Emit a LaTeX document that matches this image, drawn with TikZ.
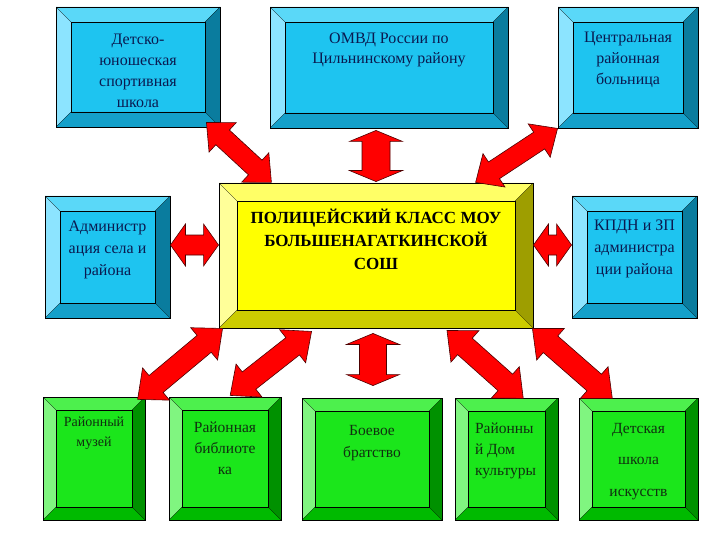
\documentclass[tikz,border=0pt]{standalone}
\usepackage{fontspec}
\setmainfont{Liberation Serif}
\usetikzlibrary{calc}

\definecolor{blueFace}{HTML}{1EC4F0}
\definecolor{blueTop}{HTML}{5AD8F8}
\definecolor{blueLeft}{HTML}{8CE4FF}
\definecolor{blueRight}{HTML}{0A7C9E}
\definecolor{blueBottom}{HTML}{14A0CA}
\definecolor{blueText}{HTML}{0A1A50}
\definecolor{yelFace}{HTML}{FFFF00}
\definecolor{yelTop}{HTML}{FFFF66}
\definecolor{yelLeft}{HTML}{FFFF99}
\definecolor{yelRight}{HTML}{9E9E00}
\definecolor{yelBottom}{HTML}{CCCC00}
\definecolor{grFace}{HTML}{1BE61B}
\definecolor{grTop}{HTML}{4DF04D}
\definecolor{grLeft}{HTML}{80F580}
\definecolor{grRight}{HTML}{009100}
\definecolor{grBottom}{HTML}{00BA00}
\definecolor{grText}{HTML}{103010}

% width, height, first baseline, lines
\newcommand{\boxtext}[4]{\parbox[c][#2pt][t]{#1pt}{\centering\rule{0pt}{#3pt}#4}}

% from, to, half shaft, half head, head length
\newcommand{\dblarrow}[5]{%
  \draw[redarrow] let \p1=($(#2)-(#1)$), \n1={veclen(\x1,\y1)}, \n2={atan2(\y1,\x1)} in
    [shift={(#1)}, rotate=\n2]
    (0pt,0pt) -- (#5pt,#4pt) -- (#5pt,#3pt) -- (\n1-#5pt,#3pt) -- (\n1-#5pt,#4pt) -- (\n1,0pt)
    -- (\n1-#5pt,-#4pt) -- (\n1-#5pt,-#3pt) -- (#5pt,-#3pt) -- (#5pt,-#4pt) -- cycle;
}

\tikzset{
  bevelbox/.style n args={6}{rectangle, fill=#1, draw=black, line width=0.9pt, inner sep=0pt,
    path picture={
      \coordinate (o1) at (path picture bounding box.north west);
      \coordinate (o2) at (path picture bounding box.north east);
      \coordinate (o3) at (path picture bounding box.south east);
      \coordinate (o4) at (path picture bounding box.south west);
      \coordinate (i1) at ([shift={(#6,#6)}]o1);
      \coordinate (i2) at ([shift={(-#6,#6)}]o2);
      \coordinate (i3) at ([shift={(-#6,-#6)}]o3);
      \coordinate (i4) at ([shift={(#6,-#6)}]o4);
      \fill[#2] (o1) -- (o2) -- (i2) -- (i1) -- cycle;
      \fill[#3] (o1) -- (i1) -- (i4) -- (o4) -- cycle;
      \fill[#4] (o2) -- (o3) -- (i3) -- (i2) -- cycle;
      \fill[#5] (o4) -- (i4) -- (i3) -- (o3) -- cycle;
      \draw[line width=0.6pt] (i1) rectangle (i3);
      \draw[line width=0.3pt] (o1) -- (i1) (o2) -- (i2) (o3) -- (i3) (o4) -- (i4);
    }},
  blueBox/.style={bevelbox={blueFace}{blueTop}{blueLeft}{blueRight}{blueBottom}{15}, text=blueText,
    font=\fontsize{16}{21}\selectfont},
  yellowBox/.style={bevelbox={yelFace}{yelTop}{yelLeft}{yelRight}{yelBottom}{18}, text=black,
    font=\fontsize{17}{23}\selectfont\bfseries},
  greenBox/.style={bevelbox={grFace}{grTop}{grLeft}{grRight}{grBottom}{13}, text=grText,
    font=\fontsize{15.5}{21}\selectfont},
  redarrow/.style={fill=red, draw=black!70!red, line width=0.6pt, line join=miter}
}

\begin{document}
\begin{tikzpicture}[x=1pt,y=-1pt]
\useasboundingbox (0,0) rectangle (720,540);

\node[blueBox] (det) at (138,67) {\boxtext{164}{120}{38}{Детско-\\юношеская\\спортивная\\школа}};
\node[blueBox,font=\fontsize{16}{20}\selectfont] (omvd) at (389,67.5) {\boxtext{238}{121}{37}{ОМВД России по\\Цильнинскому району}};
\node[blueBox] (crb) at (628,67.5) {\boxtext{140}{121}{36}{Центральная\\районная\\больница}};

\node[yellowBox] (klass) at (376,255.5) {\boxtext{314}{145}{40}{ПОЛИЦЕЙСКИЙ КЛАСС МОУ\\БОЛЬШЕНАГАТКИНСКОЙ\\СОШ}};
\node[blueBox,font=\fontsize{16}{22}\selectfont] (adm) at (107.5,257) {\boxtext{125}{122}{35}{Администр\\ация села и\\района}};
\node[blueBox,font=\fontsize{16}{22}\selectfont] (kpdn) at (634.5,257) {\boxtext{125}{122}{34}{КПДН и ЗП\\администра\\ции района}};

\node[greenBox,font=\fontsize{14}{20}\selectfont] (g1) at (94,458.5) {\boxtext{102}{123}{29}{Районный\\музей}};
\node[greenBox] (g2) at (225,458.5) {\boxtext{112}{123}{35}{Районная\\библиоте\\ка}};
\node[greenBox,font=\fontsize{15.5}{22}\selectfont] (g3) at (372,459) {\boxtext{140}{122}{37}{Боевое\\братство}};
\node[greenBox] (g4) at (506.5,459) {\parbox[c][122pt][t]{103pt}{\raggedright\leftskip=20pt\rule{0pt}{35pt}Районны\\й Дом\\культуры}};
\node[greenBox,font=\fontsize{15.5}{31.5}\selectfont] (g5) at (638.5,459) {\boxtext{119}{122}{35}{Детская\\школа\\искусств}};

\coordinate (a1) at ([shift={(-14,-5)}]det.south east);
\coordinate (a1e) at ([shift={(53,0)}]klass.north west);
\coordinate (a2) at ([shift={(0,2)}]klass.north |- omvd.south);
\coordinate (a2e) at ([shift={(0,-1)}]klass.north);
\coordinate (a3) at (crb.south west);
\coordinate (a3e) at ([shift={(-58,0)}]klass.north east);
\coordinate (l1) at ([shift={(0,-12)}]adm.east);
\coordinate (l1e) at (l1 -| klass.west);
\coordinate (r1) at ([shift={(0,-12)}]kpdn.west);
\coordinate (r1e) at (r1 -| klass.east);
\coordinate (b1) at ([shift={(4,0)}]klass.south west);
\coordinate (b1e) at ([shift={(-8,3)}]g1.north east);
\coordinate (b2) at ([shift={(93,3)}]klass.south west);
\coordinate (b2e) at ([shift={(5,-1)}]g2.north);
\coordinate (b3) at ([shift={(-3,5)}]klass.south);
\coordinate (b3e) at ($(b3 |- g3.north)+(0,-12)$);
\coordinate (b4) at ([shift={(71,2)}]klass.south);
\coordinate (b4e) at ([shift={(-35,1)}]g4.north east);
\coordinate (b5) at ([shift={(-1,0)}]klass.south east);
\coordinate (b5e) at ([shift={(34,1)}]g5.north west);

\dblarrow{a1}{a1e}{10}{20}{22}
\dblarrow{a2}{a2e}{14}{26.5}{11}
\dblarrow{a3}{a3e}{10}{20}{22}
\dblarrow{l1}{l1e}{10}{21}{15}
\dblarrow{r1e}{r1}{10}{21}{15}
\dblarrow{b1}{b1e}{11}{21}{24}
\dblarrow{b2}{b2e}{11}{21}{24}
\dblarrow{b3}{b3e}{13.5}{26.5}{11}
\dblarrow{b4}{b4e}{11}{21}{24}
\dblarrow{b5}{b5e}{11}{21}{24}
\end{tikzpicture}
\end{document}
